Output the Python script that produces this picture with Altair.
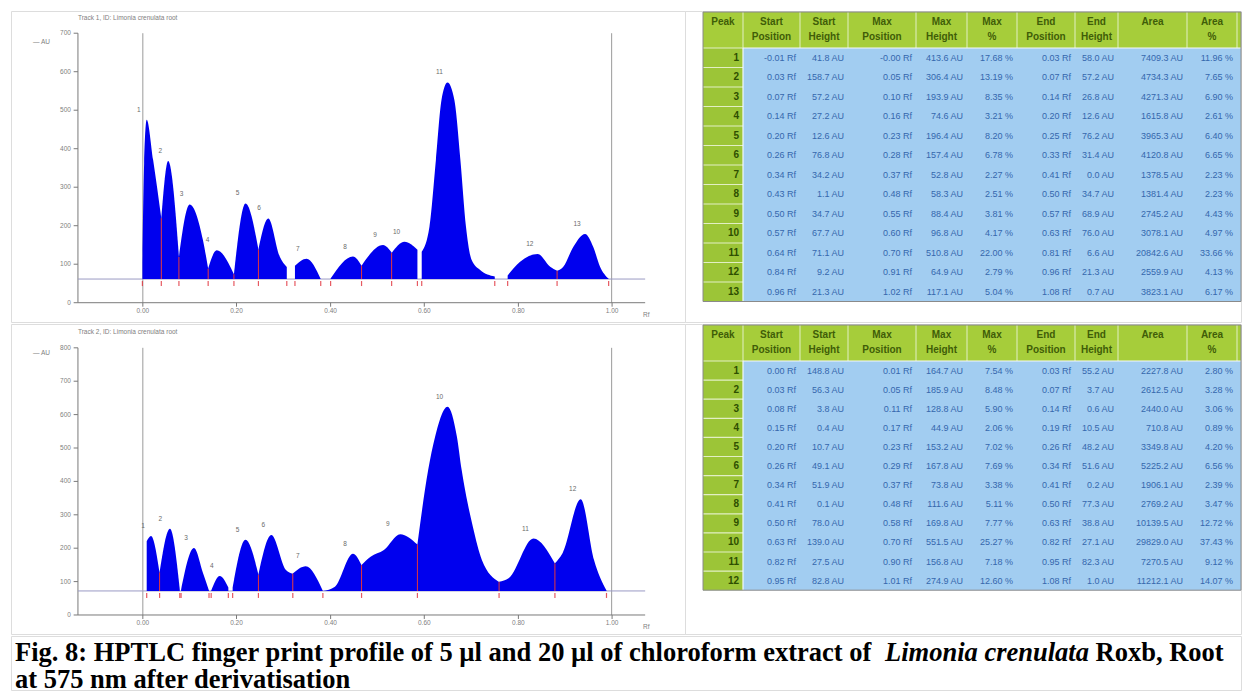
import altair as alt
import pandas as pd

# ------------------------------------------------------------ peak table, track 1 (5 µl)
PEAKS_1 = list(range(1, 14))
START_RF_1 = [-0.01, 0.03, 0.07, 0.14, 0.20, 0.26, 0.34, 0.43, 0.50, 0.57, 0.64, 0.84, 0.96]
START_AU_1 = [41.8, 158.7, 57.2, 27.2, 12.6, 76.8, 34.2, 1.1, 34.7, 67.7, 71.1, 9.2, 21.3]
MAX_RF_1 = [-0.00, 0.05, 0.10, 0.16, 0.23, 0.28, 0.37, 0.48, 0.55, 0.60, 0.70, 0.91, 1.02]
MAX_AU_1 = [413.6, 306.4, 193.9, 74.6, 196.4, 157.4, 52.8, 58.3, 88.4, 96.8, 510.8, 64.9, 117.1]
MAX_PCT_1 = [17.68, 13.19, 8.35, 3.21, 8.20, 6.78, 2.27, 2.51, 3.81, 4.17, 22.00, 2.79, 5.04]
END_RF_1 = [0.03, 0.07, 0.14, 0.20, 0.25, 0.33, 0.41, 0.50, 0.57, 0.63, 0.81, 0.96, 1.08]
END_AU_1 = [58.0, 57.2, 26.8, 12.6, 76.2, 31.4, 0.0, 34.7, 68.9, 76.0, 6.6, 21.3, 0.7]
AREA_1 = [7409.3, 4734.3, 4271.3, 1615.8, 3965.3, 4120.8, 1378.5, 1381.4, 2745.2,
          3078.1, 20842.6, 2559.9, 3823.1]
AREA_PCT_1 = [11.96, 7.65, 6.90, 2.61, 6.40, 6.65, 2.23, 2.23, 4.43, 4.97, 33.66, 4.13, 6.17]

# ------------------------------------------------------------ peak table, track 2 (20 µl)
PEAKS_2 = list(range(1, 13))
START_RF_2 = [0.00, 0.03, 0.08, 0.15, 0.20, 0.26, 0.34, 0.41, 0.50, 0.63, 0.82, 0.95]
START_AU_2 = [148.8, 56.3, 3.8, 0.4, 10.7, 49.1, 51.9, 0.1, 78.0, 139.0, 27.5, 82.8]
MAX_RF_2 = [0.01, 0.05, 0.11, 0.17, 0.23, 0.29, 0.37, 0.48, 0.58, 0.70, 0.90, 1.01]
MAX_AU_2 = [164.7, 185.9, 128.8, 44.9, 153.2, 167.8, 73.8, 111.6, 169.8, 551.5, 156.8, 274.9]
MAX_PCT_2 = [7.54, 8.48, 5.90, 2.06, 7.02, 7.69, 3.38, 5.11, 7.77, 25.27, 7.18, 12.60]
END_RF_2 = [0.03, 0.07, 0.14, 0.19, 0.26, 0.34, 0.41, 0.50, 0.63, 0.82, 0.95, 1.08]
END_AU_2 = [55.2, 3.7, 0.6, 10.5, 48.2, 51.6, 0.2, 77.3, 38.8, 27.1, 82.3, 1.0]
AREA_2 = [2227.8, 2612.5, 2440.0, 710.8, 3349.8, 5225.2, 1906.1, 2769.2, 10139.5,
          29829.0, 7270.5, 11212.1]
AREA_PCT_2 = [2.80, 3.28, 3.06, 0.89, 4.20, 6.56, 2.39, 3.47, 12.72, 37.43, 9.12, 14.07]

# ------------------------------------------------------------ densitogram outlines
# peak number, Rf and height above the baseline (AU) of each outline vertex
TRACE_PEAK_1 = [1] * 5 + [2] * 3 + [3] * 4 + [4] * 3 + [5] * 3 + [6] * 4 + [7] * 3 \
    + [8] * 3 + [9] * 3 + [10] * 3 + [11] * 11 + [12] * 5 + [13] * 7
TRACE_RF_1 = [
    -0.010, -0.006, 0.000, 0.015, 0.034,
    0.034, 0.050, 0.075,
    0.075, 0.100, 0.131, 0.143,
    0.143, 0.163, 0.203,
    0.203, 0.230, 0.260,
    0.260, 0.283, 0.310, 0.326,
    0.345, 0.372, 0.405,
    0.428, 0.480, 0.500,
    0.500, 0.550, 0.570,
    0.570, 0.600, 0.630,
    0.640, 0.658, 0.673, 0.686, 0.700, 0.716, 0.730, 0.743, 0.756, 0.776, 0.810,
    0.840, 0.869, 0.910, 0.939, 0.955,
    0.955, 0.969, 0.993, 1.020, 1.039, 1.055, 1.075,
]
TRACE_AU_1 = [
    41.8, 300.0, 413.6, 309.0, 158.0,
    158.7, 306.4, 57.2,
    57.2, 193.9, 101.0, 26.8,
    27.2, 74.6, 12.6,
    12.6, 196.4, 76.2,
    76.8, 157.4, 57.5, 31.4,
    34.2, 52.8, 0.0,
    1.1, 58.3, 34.7,
    34.7, 88.4, 68.9,
    67.7, 96.8, 76.0,
    71.1, 136.0, 309.0, 465.0, 510.8, 465.0, 309.0, 136.0, 50.0, 23.5, 6.6,
    9.2, 45.0, 64.9, 32.0, 21.3,
    21.3, 31.0, 84.0, 117.1, 84.0, 32.0, 0.7,
]

TRACE_PEAK_2 = [1] * 3 + [2] * 3 + [3] * 4 + [4] * 3 + [5] * 3 + [6] * 4 + [7] * 3 \
    + [8] * 4 + [9] * 5 + [10] * 9 + [11] * 4 + [12] * 5
TRACE_RF_2 = [
    0.000, 0.010, 0.030,
    0.030, 0.054, 0.077,
    0.080, 0.110, 0.131, 0.145,
    0.150, 0.170, 0.190,
    0.200, 0.230, 0.260,
    0.260, 0.290, 0.324, 0.340,
    0.340, 0.370, 0.410,
    0.410, 0.438, 0.480, 0.500,
    0.500, 0.521, 0.552, 0.590, 0.630,
    0.630, 0.655, 0.671, 0.700, 0.722, 0.733, 0.759, 0.780, 0.820,
    0.820, 0.843, 0.900, 0.950,
    0.950, 0.968, 1.010, 1.041, 1.070,
]
TRACE_AU_2 = [
    148.8, 164.7, 55.2,
    56.3, 185.9, 3.7,
    3.8, 128.8, 54.0, 0.6,
    0.4, 44.9, 10.5,
    10.7, 153.2, 48.2,
    49.1, 167.8, 63.0, 51.6,
    51.9, 73.8, 0.2,
    0.1, 12.7, 111.6, 77.3,
    78.0, 102.6, 122.6, 169.8, 138.8,
    139.0, 362.0, 461.0, 551.5, 461.0, 362.0, 192.0, 92.7, 27.1,
    27.5, 38.8, 156.8, 82.3,
    82.8, 113.6, 274.9, 92.7, 1.0,
]

BASELINE_1 = 61.5
BASELINE_2 = 72.0
Y_TICKS_1 = [0, 100, 200, 300, 400, 500, 600, 700]
Y_TICKS_2 = [0, 100, 200, 300, 400, 500, 600, 700, 800]
X_TICK_LABELS = ["0.00", "0.20", "0.40", "0.60", "0.80", "1.00"]

HEADERS = ["Peak", "Start\nPosition", "Start\nHeight", "Max\nPosition", "Max\nHeight",
           "Max\n%", "End\nPosition", "End\nHeight", "Area", "Area\n%"]

CAPTION_LEAD = "Fig. 8: HPTLC finger print profile of  5 µl and 20 µl of chloroform extract of"
CAPTION_SPECIES = "Limonia crenulata"
CAPTION_TAIL = "Roxb, Root"
CAPTION_LINE2 = "at 575 nm after derivatisation"

# ------------------------------------------------------------ layout and style
FONT = "Liberation Sans"
SERIF = "Liberation Serif"
LEFT_W, RIGHT_W = 674, 556
ROW1_H, ROW2_H, CAPTION_H = 311, 310, 54

X_DOMAIN = [-0.3158, 1.2527]          # Rf range spanned by a chromatogram cell
Y_AXIS_RF = -0.160                    # where the AU axis stands
X_AXIS_END_RF = 1.160
FRAME_RF = [-0.009, 1.082]            # start / front lines
X_TICK_RF = [-0.009, 0.209, 0.428, 0.646, 0.865, 1.083]

BLUE = "#0000ee"
RED = "#e0303a"
AXIS_GREY = "#7a7a7a"
LABEL_GREY = "#808080"

COL_W = [40, 57, 48, 68, 51, 50, 58, 43, 69, 50]
TABLE_X0 = 18
HEAD_GREEN = "#a6cd3a"
PEAK_GREEN = "#9cc537"
CELL_BLUE = "#a2cdf1"
HEAD_TEXT = "#3f5d08"
PEAK_TEXT = "#2e4e00"
VALUE_TEXT = "#3567ad"


def chromatogram(trace_peak, trace_rf, trace_au, peaks, max_rf, max_au, baseline,
                 y_domain, y_ticks, height, title, title_au, unit_au, rf_au):
    xs = alt.Scale(domain=X_DOMAIN, nice=False, zero=False)
    ys = alt.Scale(domain=y_domain, nice=False, zero=False)
    px = (y_domain[1] - y_domain[0]) / height      # AU per pixel

    def X(f):
        return alt.X(f, type="quantitative", scale=xs, axis=None)

    def Y(f):
        return alt.Y(f, type="quantitative", scale=ys, axis=None)

    trace = pd.DataFrame({"peak": trace_peak, "rf": trace_rf, "h": trace_au})
    trace["au"] = trace["h"] + baseline
    trace["base"] = baseline

    area = alt.Chart(trace).mark_area(color=BLUE, interpolate="monotone").encode(
        x=X("rf"), y=Y("au"), y2="base", detail="peak:N")

    # red separators where one peak hands over directly to the next
    first = trace.groupby("peak").first()
    last = trace.groupby("peak").last()
    joins = []
    for p in first.index[1:]:
        if abs(last.loc[p - 1, "rf"] - first.loc[p, "rf"]) < 1e-9:
            joins.append({"rf": first.loc[p, "rf"], "base": baseline,
                          "au": min(last.loc[p - 1, "au"], first.loc[p, "au"])})
    join_rules = alt.Chart(pd.DataFrame(joins)).mark_rule(color=RED, strokeWidth=1).encode(
        x=X("rf"), y=Y("base"), y2="au")

    marks_rf = sorted(set(first["rf"]).union(set(last["rf"])))
    marks = pd.DataFrame({"rf": marks_rf, "a": baseline - 2 * px, "b": baseline - 7 * px})
    mark_rules = alt.Chart(marks).mark_rule(color=RED, strokeWidth=1.2, opacity=0.8).encode(
        x=X("rf"), y=Y("a"), y2="b")

    top = y_ticks[-1]
    frame = pd.DataFrame({"rf": FRAME_RF, "a": 0, "b": top})
    frame_rules = alt.Chart(frame).mark_rule(color="#9a9a9a", strokeWidth=1).encode(
        x=X("rf"), y=Y("a"), y2="b")

    y_axis = alt.Chart(pd.DataFrame({"rf": [Y_AXIS_RF], "a": [0], "b": [top]})).mark_rule(
        color=AXIS_GREY, strokeWidth=1).encode(x=X("rf"), y=Y("a"), y2="b")
    hlines = pd.DataFrame({"a": [Y_AXIS_RF, Y_AXIS_RF], "b": [X_AXIS_END_RF, X_AXIS_END_RF],
                           "au": [0, baseline], "kind": ["axis", "base"]})
    h_rules = alt.Chart(hlines).mark_rule(strokeWidth=1).encode(
        x=X("a"), x2="b", y=Y("au"),
        color=alt.Color("kind:N", scale=alt.Scale(domain=["axis", "base"],
                                                   range=[AXIS_GREY, "#9a9ac4"]), legend=None))

    yt = pd.DataFrame({"a": Y_AXIS_RF - 0.010, "b": Y_AXIS_RF, "au": y_ticks,
                       "label": [str(v) for v in y_ticks]})
    y_tick_rules = alt.Chart(yt).mark_rule(color=AXIS_GREY).encode(x=X("a"), x2="b", y=Y("au"))
    y_labels = alt.Chart(yt).mark_text(align="right", baseline="middle", dx=-7, fontSize=6.5,
                                       color=LABEL_GREY).encode(x=X("b"), y=Y("au"), text="label")

    xt = pd.DataFrame({"rf": X_TICK_RF, "a": 0, "b": -4 * px, "label": X_TICK_LABELS})
    x_tick_rules = alt.Chart(xt).mark_rule(color=AXIS_GREY).encode(x=X("rf"), y=Y("a"), y2="b")
    x_labels = alt.Chart(xt).mark_text(align="center", baseline="top", dy=5, fontSize=6.5,
                                       color=LABEL_GREY).encode(x=X("rf"), y=Y("a"), text="label")

    tops = pd.DataFrame({"peak": [str(p) for p in peaks], "rf": max_rf,
                         "au": [v + baseline for v in max_au]})
    peak_labels = alt.Chart(tops).mark_text(align="center", baseline="middle", dx=-8, dy=-10,
                                            fontSize=6.5, color="#6a6a6a").encode(
        x=X("rf"), y=Y("au"), text="peak")

    notes = pd.DataFrame({"rf": [Y_AXIS_RF, -0.2646, 1.155], "au": [title_au, unit_au, rf_au],
                          "text": [title, "— AU", "Rf"]})
    note_text = alt.Chart(notes).mark_text(align="left", baseline="middle", fontSize=6.5,
                                           color=LABEL_GREY).encode(
        x=X("rf"), y=Y("au"), text="text")

    return alt.layer(frame_rules, y_axis, h_rules, y_tick_rules, y_labels, x_tick_rules, x_labels,
                     area, join_rules, mark_rules, peak_labels, note_text).properties(
        width=LEFT_W, height=height)


def peak_table(columns, height, row_h):
    edges = [TABLE_X0]
    for w in COL_W:
        edges.append(edges[-1] + w)
    top, head_h = 1, 36
    body = top + head_h
    n = len(columns[0])
    bottom = body + n * row_h

    xs = alt.Scale(domain=[0, RIGHT_W], nice=False, zero=False)
    ys = alt.Scale(domain=[0, height], reverse=True, nice=False, zero=False)

    def X(f):
        return alt.X(f, type="quantitative", scale=xs, axis=None)

    def Y(f):
        return alt.Y(f, type="quantitative", scale=ys, axis=None)

    rects = pd.DataFrame({
        "x": [edges[0], edges[0], edges[1]],
        "x2": [RIGHT_W, edges[1], RIGHT_W],
        "y": [top, body, body],
        "y2": [body, bottom, bottom],
        "fill": [HEAD_GREEN, PEAK_GREEN, CELL_BLUE],
    })
    fills = alt.Chart(rects).mark_rect().encode(
        x=X("x"), x2="x2", y=Y("y"), y2="y2", color=alt.Color("fill:N", scale=None))

    vsep = pd.DataFrame({"x": edges[1:], "y": top, "y2": body})
    v_rules = alt.Chart(vsep).mark_rule(color="#e2efc4", strokeWidth=1).encode(
        x=X("x"), y=Y("y"), y2="y2")
    hsep = pd.DataFrame({"y": [body + i * row_h for i in range(n)], "x": edges[0], "x2": edges[1]})
    h_rules = alt.Chart(hsep).mark_rule(color="#e2efc4", strokeWidth=1.2).encode(
        x=X("x"), x2="x2", y=Y("y"))
    inner = pd.DataFrame({"x": [edges[1], edges[1]], "x2": [edges[1], RIGHT_W],
                          "y": [body, body], "y2": [bottom, body]})
    inner_rules = alt.Chart(inner).mark_rule(color="#f4f8fc", strokeWidth=1.2).encode(
        x=X("x"), x2="x2", y=Y("y"), y2="y2")
    outline = alt.Chart(pd.DataFrame({"x": [edges[0]], "x2": [RIGHT_W], "y": [top],
                                      "y2": [bottom]})).mark_rect(
        fill=None, stroke="#8a8a8a", strokeWidth=1).encode(x=X("x"), x2="x2", y=Y("y"), y2="y2")

    heads = pd.DataFrame({"x": [(a + b) / 2 for a, b in zip(edges[:-1], edges[1:])],
                          "y": top + 5, "text": HEADERS})
    head_text = alt.Chart(heads).mark_text(align="center", baseline="top", lineBreak="\n",
                                           lineHeight=15, fontSize=10, fontWeight="bold",
                                           color=HEAD_TEXT).encode(x=X("x"), y=Y("y"), text="text")

    rows = []
    for c, col in enumerate(columns):
        for r, txt in enumerate(col):
            rows.append({"x": edges[c + 1] - 4, "y": body + (r + 0.5) * row_h, "text": txt,
                         "kind": "peak" if c == 0 else "value"})
    cells = pd.DataFrame(rows)
    peak_text = alt.Chart(cells).transform_filter(alt.datum.kind == "peak").mark_text(
        align="right", baseline="middle", fontSize=10, fontWeight="bold", color=PEAK_TEXT).encode(
        x=X("x"), y=Y("y"), text="text")
    value_text = alt.Chart(cells).transform_filter(alt.datum.kind == "value").mark_text(
        align="right", baseline="middle", fontSize=9, color=VALUE_TEXT).encode(
        x=X("x"), y=Y("y"), text="text")

    return alt.layer(fills, v_rules, h_rules, inner_rules, outline, head_text, peak_text,
                     value_text).properties(width=RIGHT_W, height=height)


def table_columns(peaks, s_rf, s_au, m_rf, m_au, m_pct, e_rf, e_au, area, a_pct):
    return [
        [str(p) for p in peaks],
        [f"{v:.2f} Rf" for v in s_rf],
        [f"{v:.1f} AU" for v in s_au],
        [f"{v:.2f} Rf" for v in m_rf],
        [f"{v:.1f} AU" for v in m_au],
        [f"{v:.2f} %" for v in m_pct],
        [f"{v:.2f} Rf" for v in e_rf],
        [f"{v:.1f} AU" for v in e_au],
        [f"{v:.1f} AU" for v in area],
        [f"{v:.2f} %" for v in a_pct],
    ]


chrom_1 = chromatogram(TRACE_PEAK_1, TRACE_RF_1, TRACE_AU_1, PEAKS_1, MAX_RF_1, MAX_AU_1,
                       BASELINE_1, [-50.1, 757.7], Y_TICKS_1, ROW1_H,
                       "Track 1, ID: Limonia crenulata root", 739.5, 677, -32)
chrom_2 = chromatogram(TRACE_PEAK_2, TRACE_RF_2, TRACE_AU_2, PEAKS_2, MAX_RF_2, MAX_AU_2,
                       BASELINE_2, [-56.9, 871.3], Y_TICKS_2, ROW2_H,
                       "Track 2, ID: Limonia crenulata root", 848, 784, -36)

table_1 = peak_table(table_columns(PEAKS_1, START_RF_1, START_AU_1, MAX_RF_1, MAX_AU_1, MAX_PCT_1,
                                   END_RF_1, END_AU_1, AREA_1, AREA_PCT_1), ROW1_H, 19.5)
table_2 = peak_table(table_columns(PEAKS_2, START_RF_2, START_AU_2, MAX_RF_2, MAX_AU_2, MAX_PCT_2,
                                   END_RF_2, END_AU_2, AREA_2, AREA_PCT_2), ROW2_H, 19.1)

# caption: bold serif with the species name in bold italic
CAP_SIZE = 26.5
LEAD_EM, SPECIES_EM, GAP_EM = 32.581, 7.696, 0.25
cap_x0 = 4
species_x = cap_x0 + (LEAD_EM + GAP_EM) * CAP_SIZE
tail_x = species_x + (SPECIES_EM + GAP_EM) * CAP_SIZE


def caption_piece(text, x, y, italic=False):
    return alt.Chart(pd.DataFrame({"t": [text]})).mark_text(
        align="left", baseline="alphabetic", font=SERIF, fontSize=CAP_SIZE, fontWeight="bold",
        fontStyle="italic" if italic else "normal", color="black").encode(
        x=alt.value(x), y=alt.value(y), text="t:N")


caption = alt.layer(
    caption_piece(CAPTION_LEAD, cap_x0, 24.5),
    caption_piece(CAPTION_SPECIES, species_x, 24.5, italic=True),
    caption_piece(CAPTION_TAIL, tail_x, 24.5),
    caption_piece(CAPTION_LINE2, cap_x0, 52),
).properties(width=LEFT_W + RIGHT_W, height=CAPTION_H)

row_1 = alt.hconcat(chrom_1, table_1, spacing=0, bounds="flush")
row_2 = alt.hconcat(chrom_2, table_2, spacing=0, bounds="flush")

chart = alt.vconcat(row_1, row_2, caption, spacing=0).properties(
    padding={"left": 10, "top": 10, "right": 0, "bottom": 0}
).configure_view(stroke="black", strokeWidth=1.5).configure(font=FONT)

chart.save("out.html", embed_options={"renderer": "svg", "actions": False})
